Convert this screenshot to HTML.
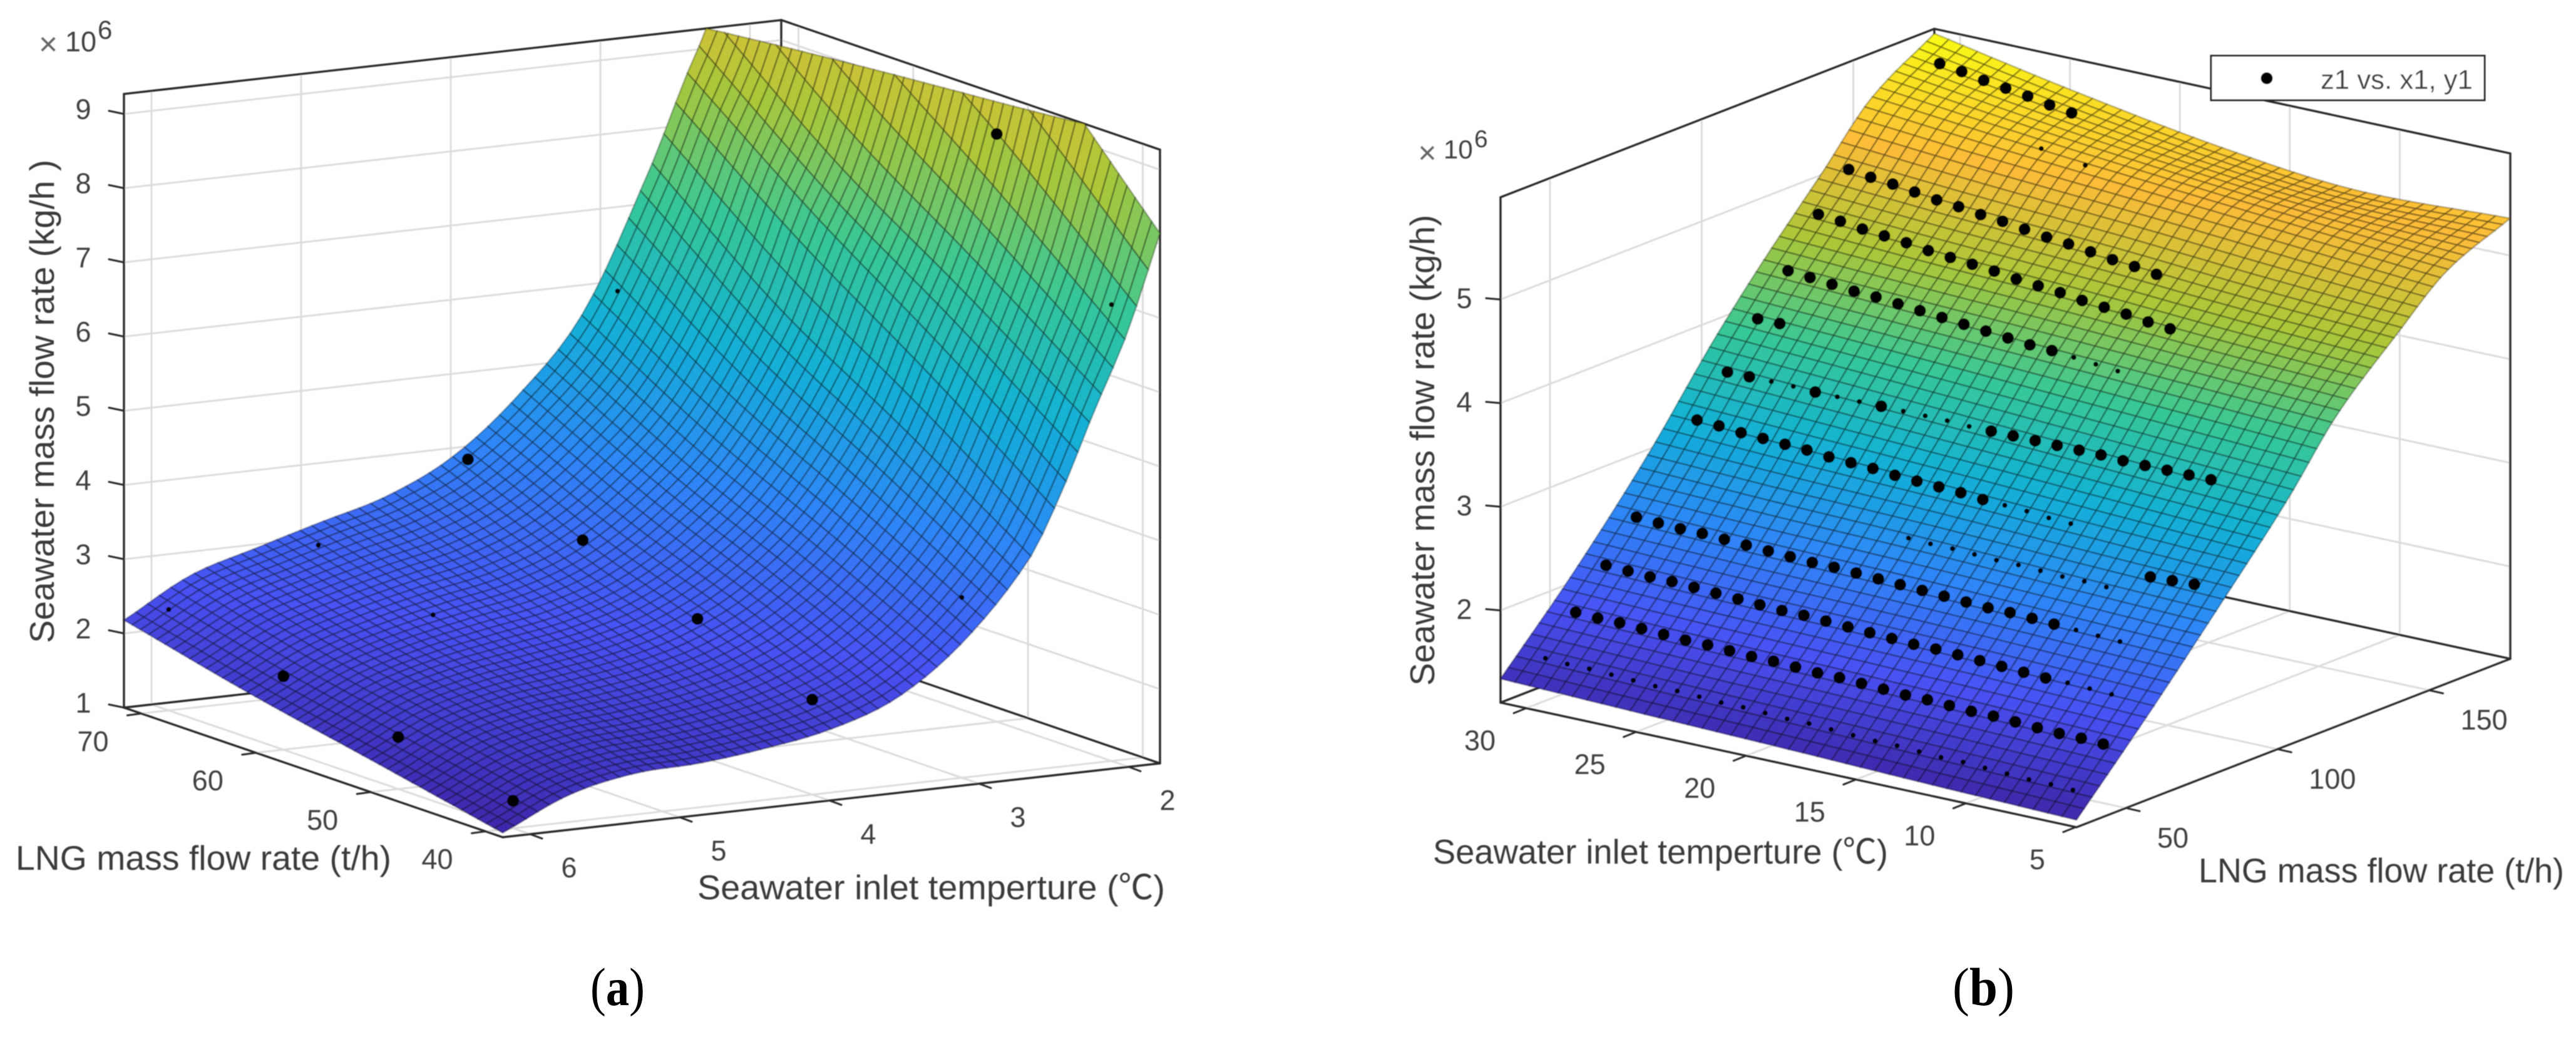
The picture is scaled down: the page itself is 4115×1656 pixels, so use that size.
<!DOCTYPE html>
<html lang="en">
<head>
<meta charset="utf-8">
<title>Seawater mass flow rate surfaces</title>
<style>
  html, body { margin: 0; padding: 0; background: #ffffff; }
  body { width: 4115px; height: 1656px; overflow: hidden; }
  svg { display: block; }
  text { font-family: "Liberation Sans", "Noto Sans CJK SC", sans-serif; fill: #404040; }
  .title { font-size: 55px; fill: #3a3a3a; }
  .caption { font-family: "Liberation Serif", serif; fill: #000000; }
</style>
</head>
<body>
<svg id="figure" xmlns="http://www.w3.org/2000/svg" width="4115" height="1656" viewBox="0 0 4115 1656">
  <defs>
    <filter id="soft" filterUnits="userSpaceOnUse" x="0" y="0" width="4115" height="1656">
      <feGaussianBlur stdDeviation="0.8"/>
    </filter>
  </defs>
  <rect x="0" y="0" width="4115" height="1656" fill="#ffffff"/>

  <g id="panel-a" filter="url(#soft)">
    <g id="layer-a"></g>
    <text class="title" transform="translate(86,1027) rotate(-90)" textLength="772" lengthAdjust="spacingAndGlyphs">Seawater mass flow rate (kg/h )</text>
    <text class="title" x="25" y="1389" textLength="600" lengthAdjust="spacingAndGlyphs">LNG mass flow rate (t/h)</text>
    <text class="title" x="1114" y="1436" textLength="747" lengthAdjust="spacingAndGlyphs">Seawater inlet temperture (℃)</text>
    <g>
      <text x="77" y="88" font-size="52" text-anchor="middle" style="fill:#666666">×</text>
      <text x="104" y="82" font-size="45">10</text>
      <text x="156" y="62" font-size="42">6</text>
    </g>
  </g>

  <g id="panel-b" filter="url(#soft)">
    <g id="layer-b"></g>
    <text class="title" transform="translate(2291,1095) rotate(-90)" textLength="752" lengthAdjust="spacingAndGlyphs">Seawater mass flow rate (kg/h)</text>
    <text class="title" x="2289" y="1379" textLength="727" lengthAdjust="spacingAndGlyphs">Seawater inlet temperture (℃)</text>
    <text class="title" x="3512" y="1409" textLength="584" lengthAdjust="spacingAndGlyphs">LNG mass flow rate (t/h)</text>
    <g>
      <text x="2280" y="261" font-size="50" text-anchor="middle" style="fill:#666666">×</text>
      <text x="2306" y="253" font-size="42">10</text>
      <text x="2355" y="235" font-size="39">6</text>
    </g>
    <g>
      <rect x="3532" y="89" width="437" height="71" fill="#ffffff" stroke="#262626" stroke-width="3"/>
      <circle cx="3621" cy="125" r="9.5" fill="#000000"/>
      <text x="3707" y="142" font-size="44" textLength="243" lengthAdjust="spacingAndGlyphs">z1 vs. x1, y1</text>
    </g>
  </g>

  <text class="caption" x="943" y="1605" font-size="86" textLength="87" lengthAdjust="spacingAndGlyphs">(<tspan font-weight="bold">a</tspan>)</text>
  <text class="caption" x="3119" y="1605" font-size="86" textLength="99" lengthAdjust="spacingAndGlyphs">(<tspan font-weight="bold">b</tspan>)</text>
</svg>

<script>
// ---------- Panel (a) data ----------
const panelATempTicks = [2, 3, 4, 5, 6];
const panelALngTicks = [40, 50, 60, 70];
const panelAZTicks = [1, 2, 3, 4, 5, 6, 7, 8, 9];
const panelASurfaceTemps = [1.79, 2.01, 2.23, 2.45, 2.67, 3.11, 3.55, 3.99, 4.43, 4.87, 5.30, 5.74, 6.18];
const panelASurfaceLng = [38.5, 49.5, 60.5, 71.5];
const panelASurfaceZ = [
  [8.15, 10.0, 11.6, 13.9],
  [6.85, 8.28, 9.64, 11.2],
  [5.85, 7.04, 8.19, 9.60],
  [4.80, 6.06, 7.24, 8.55],
  [3.94, 5.05, 6.11, 7.46],
  [2.93, 3.80, 4.63, 5.64],
  [2.28, 3.03, 3.75, 4.61],
  [1.96, 2.57, 3.16, 3.88],
  [1.80, 2.32, 2.84, 3.45],
  [1.70, 2.18, 2.67, 3.20],
  [1.66, 2.07, 2.48, 2.95],
  [1.47, 1.85, 2.21, 2.68],
  [1.06, 1.42, 1.77, 2.18]
];
const panelAPointT = [6, 4, 2, 3, 6, 4, 2, 6, 4, 6, 4, 5, 5, 3];
const panelAPointL = [40, 40, 40, 40, 50, 50, 50, 60, 60, 70, 70, 70, 60, 70];
const panelAPointZ = [1.37, 2.28, 7.15, 3.43, 1.70, 2.84, 8.92, 1.99, 3.37, 2.36, 3.93, 3.00, 2.59, 5.97];
const panelAPointPartlyHidden = [0, 0, 1, 1, 0, 0, 0, 0, 0, 1, 0, 1, 1, 1];

// ---------- Panel (b) data ----------
const panelBTempTicks = [5, 10, 15, 20, 25, 30];
const panelBLngTicks = [50, 100, 150];
const panelBZTicks = [2, 3, 4, 5];
const panelBSurfaceTemps = [4.97, 12.04, 18.07, 24.9, 31.17];
const panelBSurfaceLng = [33.7, 58, 82.3, 103, 119.5, 139.8, 155.8, 176.7];
const panelBSurfaceZ = [
  [1.18, 1.95, 2.76, 3.47, 4.11, 4.68, 5.09, 5.36],
  [1.22, 2.00, 2.81, 3.55, 4.18, 4.76, 5.20, 5.31],
  [1.26, 2.03, 2.86, 3.62, 4.24, 4.85, 5.30, 5.44],
  [1.30, 2.06, 2.90, 3.70, 4.30, 4.93, 5.42, 5.68],
  [1.34, 2.10, 2.95, 3.77, 4.36, 5.02, 5.55, 5.94]
];
const panelBRowLng = [170, 160, 140, 130, 120, 110, 100, 90, 80, 80, 70, 60, 50, 40];
const panelBRowTemps = [
  [30, 29, 28, 27, 26, 25, 24],
  [24, 22],
  [30, 29, 28, 27, 26, 25, 24, 23, 22, 21, 20, 19, 18, 17, 16],
  [30, 29, 28, 27, 26, 25, 24, 23, 22, 21, 20, 19, 18, 17, 16, 15, 14],
  [30, 29, 28, 27, 26, 25, 24, 23, 22, 21, 20, 19, 18, 17, 16, 15],
  [30, 29],
  [30, 29, 28, 27, 26, 25, 24, 23, 22, 21, 20, 19, 18, 17, 16, 15, 14, 13, 12, 11, 10, 9, 8],
  [30, 29, 28, 27, 26, 25, 24, 23, 22, 21, 20, 19, 18, 17, 16, 15, 14, 13],
  [19, 18, 17, 16, 15, 14, 13, 12, 11, 10],
  [8, 7, 6],
  [30, 29, 28, 27, 26, 25, 24, 23, 22, 21, 20, 19, 18, 17, 16, 15, 14, 13, 12, 11, 10, 9, 8],
  [30, 29, 28, 27, 26, 25, 24, 23, 22, 21, 20, 19, 18, 17, 16, 15, 14, 13, 12, 11, 10, 9, 8, 7],
  [30, 29, 28, 27, 26, 25, 24, 23, 22, 21, 20, 19, 18, 17, 16, 15, 14, 13, 12, 11, 10, 9, 8, 7, 6],
  [30, 29, 28, 27, 26, 25, 24, 23, 22, 21, 20, 19, 18, 17, 16, 15, 14, 13, 12, 11, 10, 9, 8, 7, 6]
];
const panelBRowZ = [
  [5.78, 5.75, 5.71, 5.68, 5.65, 5.61, 5.58],
  [5.35, 5.28],
  [5.10, 5.07, 5.05, 5.02, 4.99, 4.97, 4.94, 4.92, 4.89, 4.86, 4.84, 4.81, 4.78, 4.76, 4.73],
  [4.78, 4.76, 4.73, 4.71, 4.69, 4.66, 4.64, 4.62, 4.60, 4.57, 4.55, 4.53, 4.50, 4.48, 4.46, 4.43, 4.41],
  [4.35, 4.33, 4.31, 4.29, 4.28, 4.26, 4.24, 4.22, 4.20, 4.18, 4.16, 4.14, 4.13, 4.11, 4.09, 4.07],
  [4.00, 4.00],
  [3.60, 3.60, 3.60, 3.60, 3.59, 3.59, 3.59, 3.59, 3.59, 3.59, 3.59, 3.58, 3.58, 3.58, 3.58, 3.58, 3.58, 3.58, 3.57, 3.57, 3.57, 3.57, 3.57],
  [3.25, 3.24, 3.22, 3.21, 3.20, 3.19, 3.17, 3.16, 3.15, 3.13, 3.12, 3.11, 3.10, 3.08, 3.07, 3.06, 3.04, 3.03],
  [2.73, 2.72, 2.72, 2.71, 2.70, 2.70, 2.69, 2.68, 2.68, 2.67],
  [2.86, 2.87, 2.88],
  [2.54, 2.53, 2.52, 2.52, 2.51, 2.50, 2.49, 2.48, 2.47, 2.47, 2.46, 2.45, 2.44, 2.43, 2.42, 2.41, 2.40, 2.40, 2.39, 2.38, 2.37, 2.36, 2.35],
  [2.19, 2.18, 2.17, 2.17, 2.16, 2.15, 2.14, 2.13, 2.12, 2.12, 2.11, 2.10, 2.09, 2.08, 2.07, 2.07, 2.06, 2.05, 2.04, 2.03, 2.02, 2.02, 2.01, 2.00],
  [1.85, 1.84, 1.84, 1.83, 1.82, 1.81, 1.81, 1.80, 1.79, 1.79, 1.78, 1.77, 1.77, 1.76, 1.75, 1.74, 1.74, 1.73, 1.72, 1.72, 1.71, 1.70, 1.69, 1.69, 1.68],
  [1.52, 1.51, 1.51, 1.50, 1.49, 1.48, 1.48, 1.47, 1.46, 1.46, 1.45, 1.44, 1.44, 1.43, 1.42, 1.41, 1.41, 1.40, 1.39, 1.39, 1.38, 1.37, 1.36, 1.36, 1.35]
];
const panelBRowPartlyHidden = [
  [],
  [24, 22],
  [],
  [],
  [17, 16, 15],
  [],
  [28, 27, 25, 24, 22, 21, 20, 19],
  [16, 15, 14, 13],
  [19, 18, 17, 16, 15, 14, 13, 12, 11, 10],
  [],
  [10, 9, 8],
  [9, 8, 7],
  [],
  [30, 29, 28, 27, 26, 25, 24, 23, 22, 21, 20, 19, 18, 17, 16, 15, 14, 13, 12, 11, 10, 9, 8, 7, 6]
];

// ---------- Colormap ----------
const parulaStops = [
  [62, 38, 168], [72, 82, 244], [46, 135, 247], [18, 177, 214],
  [55, 200, 151], [171, 199, 57], [252, 188, 56], [249, 251, 21]
];
function parula(t) {
  const c = Math.max(0, Math.min(1, t)) * (parulaStops.length - 1);
  const i = Math.min(parulaStops.length - 2, Math.floor(c));
  const f = c - i;
  const a = parulaStops[i], b = parulaStops[i + 1];
  return 'rgb(' + Math.round(a[0] + (b[0] - a[0]) * f) + ',' + Math.round(a[1] + (b[1] - a[1]) * f) + ',' + Math.round(a[2] + (b[2] - a[2]) * f) + ')';
}

// ---------- Helpers ----------
const SVG_NS = 'http://www.w3.org/2000/svg';
function make(parent, tag, props) {
  const el = document.createElementNS(SVG_NS, tag);
  for (const k in props) el.setAttribute(k, props[k]);
  parent.appendChild(el);
  return el;
}
function hermite(nodes, values, x) {
  const n = nodes.length;
  let i = 0;
  while (i < n - 2 && x > nodes[i + 1]) i++;
  const h = nodes[i + 1] - nodes[i];
  const s = Math.max(0, Math.min(1, (x - nodes[i]) / h));
  const slope = function (k) {
    const lo = Math.max(0, k - 1), hi = Math.min(n - 1, k + 1);
    return (values[hi] - values[lo]) / (nodes[hi] - nodes[lo]);
  };
  const m0 = slope(i) * h, m1 = slope(i + 1) * h;
  const s2 = s * s, s3 = s2 * s;
  return (2 * s3 - 3 * s2 + 1) * values[i] + (s3 - 2 * s2 + s) * m0 + (-2 * s3 + 3 * s2) * values[i + 1] + (s3 - s2) * m1;
}
function surfaceAt(temps, lngs, grid, T, L) {
  const column = grid.map(function (row) { return hermite(lngs, row, L); });
  return hermite(temps, column, T);
}
function clipTop(verts, zTop) {
  const out = [];
  for (let i = 0; i < verts.length; i++) {
    const a = verts[i], b = verts[(i + 1) % verts.length];
    const inA = a.z <= zTop, inB = b.z <= zTop;
    if (inA) out.push(a);
    if (inA !== inB) {
      const k = (zTop - a.z) / (b.z - a.z);
      out.push({ T: a.T + (b.T - a.T) * k, L: a.L + (b.L - a.L) * k, z: zTop });
    }
  }
  return out;
}

// ---------- Panel renderer ----------
function drawPanel(cfg) {
  const root = document.getElementById(cfg.layer);
  const P = function (T, L, z) {
    const t = (T - cfg.tFront) / (cfg.tBack - cfg.tFront);
    const l = (L - cfg.lFront) / (cfg.lBack - cfg.lFront);
    const h = z - cfg.zMin;
    return [cfg.origin[0] + t * cfg.tVec[0] + l * cfg.lVec[0],
            cfg.origin[1] + t * cfg.tVec[1] + l * cfg.lVec[1] - h * cfg.zPx];
  };
  const seg = function (a, b, stroke, width) {
    return make(root, 'line', { x1: a[0], y1: a[1], x2: b[0], y2: b[1], stroke: stroke, 'stroke-width': width, 'stroke-linecap': 'round' });
  };
  const GRID = '#dcdcdc', GW = 3, AX = '#2a2a2a', AW = 3.4;

  // grid lines on the two back walls and the floor
  cfg.zTicks.forEach(function (z) {
    const a = seg(P(cfg.tFront, cfg.lBack, z), P(cfg.tBack, cfg.lBack, z), GRID, GW);
    
    
    const b = seg(P(cfg.tBack, cfg.lBack, z), P(cfg.tBack, cfg.lFront, z), GRID, GW);
    
    
  });
  cfg.tTicks.forEach(function (T) {
    const a = seg(P(T, cfg.lBack, cfg.zMin), P(T, cfg.lBack, cfg.zMax), GRID, GW);
    
    
    const b = seg(P(T, cfg.lFront, cfg.zMin), P(T, cfg.lBack, cfg.zMin), GRID, GW);
    
    
  });
  cfg.lTicks.forEach(function (L) {
    const a = seg(P(cfg.tBack, L, cfg.zMin), P(cfg.tBack, L, cfg.zMax), GRID, GW);
    
    
    const b = seg(P(cfg.tFront, L, cfg.zMin), P(cfg.tBack, L, cfg.zMin), GRID, GW);
    
    
  });

  // box edges
  const f = cfg.tFront, k = cfg.tBack, m = cfg.lFront, n = cfg.lBack, lo = cfg.zMin, hi = cfg.zMax;
  const boxEdges = [
    [[f, m, lo], [k, m, lo]], [[f, m, lo], [f, n, lo]],
    [[k, m, lo], [k, n, lo]], [[f, n, lo], [k, n, lo]],
    [[k, n, lo], [k, n, hi]], [[k, m, lo], [k, m, hi]], [[f, n, lo], [f, n, hi]],
    [[k, m, hi], [k, n, hi]], [[f, n, hi], [k, n, hi]]
  ];
  boxEdges.forEach(function (e) {
    const a = seg(P(e[0][0], e[0][1], e[0][2]), P(e[1][0], e[1][1], e[1][2]), AX, AW);
    
    
  });

  // ticks and tick labels
  cfg.zTicks.forEach(function (z) {
    const p = P(cfg.zAxisT, cfg.zAxisL, z);
    const t = seg(p, [p[0] + cfg.zTick[0], p[1] + cfg.zTick[1]], AX, 3);
    
    
    const lab = make(root, 'text', { x: p[0] + cfg.zLabel[0], y: p[1] + cfg.zLabel[1], 'font-size': cfg.tickFont, 'text-anchor': 'middle' });
    lab.textContent = String(z);
    
    
  });
  cfg.tTicks.forEach(function (T) {
    const p = P(T, cfg.lFront, cfg.zMin);
    const t = seg(p, [p[0] + cfg.tTick[0], p[1] + cfg.tTick[1]], AX, 3);
    
    
    const lab = make(root, 'text', { x: p[0] + cfg.tLabel[0], y: p[1] + cfg.tLabel[1], 'font-size': cfg.tickFont, 'text-anchor': cfg.tAnchor });
    lab.textContent = String(T);
    
    
  });
  cfg.lTicks.forEach(function (L) {
    const p = P(cfg.tFront, L, cfg.zMin);
    const t = seg(p, [p[0] + cfg.lTick[0], p[1] + cfg.lTick[1]], AX, 3);
    
    
    const lab = make(root, 'text', { x: p[0] + cfg.lLabel[0], y: p[1] + cfg.lLabel[1], 'font-size': cfg.tickFont, 'text-anchor': cfg.lAnchor });
    lab.textContent = String(L);
    
    
  });

  // surface mesh, painted back to front
  const surface = make(root, 'g', { stroke: 'rgba(0,0,0,0.3)', 'stroke-width': 2.6, 'stroke-linejoin': 'round' });
  
  
  const zAt = function (T, L) { return surfaceAt(cfg.temps, cfg.lngs, cfg.grid, T, L); };
  for (let i = cfg.meshT - 1; i >= 0; i--) {
    const T0 = cfg.tFront + (cfg.tBack - cfg.tFront) * i / cfg.meshT;
    const T1 = cfg.tFront + (cfg.tBack - cfg.tFront) * (i + 1) / cfg.meshT;
    for (let j = cfg.meshL - 1; j >= 0; j--) {
      const L0 = cfg.lFront + (cfg.lBack - cfg.lFront) * j / cfg.meshL;
      const L1 = cfg.lFront + (cfg.lBack - cfg.lFront) * (j + 1) / cfg.meshL;
      const raw = [
        { T: T0, L: L0, z: zAt(T0, L0) }, { T: T1, L: L0, z: zAt(T1, L0) },
        { T: T1, L: L1, z: zAt(T1, L1) }, { T: T0, L: L1, z: zAt(T0, L1) }
      ];
      const verts = clipTop(raw, cfg.zMax);
      if (verts.length < 3) continue;
      let mean = 0;
      verts.forEach(function (v) { mean += v.z; });
      mean /= verts.length;
      const pts = verts.map(function (v) {
        const p = P(v.T, v.L, v.z);
        return p[0].toFixed(1) + ',' + p[1].toFixed(1);
      }).join(' ');
      const cell = make(surface, 'polygon', { points: pts, fill: parula((mean - cfg.cMin) / (cfg.cMax - cfg.cMin)) });
      
      
    }
  }

  return P;
}

function drawPoint(root, p, partly) {
  const c = make(root, 'circle', { cx: p[0].toFixed(1), cy: p[1].toFixed(1), r: partly ? 4 : 9.5, fill: '#000000' });
  
  
}

// ---------- Draw panel (a) ----------
const projectA = drawPanel({
  layer: 'layer-a',
  origin: [803, 1337], tVec: [1050, -118], lVec: [-605, -207], zPx: 118.5,
  tFront: 6.184, tBack: 1.791, lFront: 38.5, lBack: 71.5, zMin: 1, zMax: 9.27,
  zAxisT: 6.184, zAxisL: 71.5,
  zTick: [-24, -5], tTick: [19, 7], lTick: [-22, 3],
  zLabel: [-65, 8], tLabel: [62, 69], lLabel: [-77, 60],
  tAnchor: 'middle', lAnchor: 'middle', tickFont: 45,
  tTicks: panelATempTicks, lTicks: panelALngTicks, zTicks: panelAZTicks,
  temps: panelASurfaceTemps, lngs: panelASurfaceLng, grid: panelASurfaceZ,
  cMin: 1.05, cMax: 11.66, meshT: 56, meshL: 46
});
const layerA = document.getElementById('layer-a');
panelAPointT.forEach(function (T, i) {
  drawPoint(layerA, projectA(T, panelAPointL[i], panelAPointZ[i]), panelAPointPartlyHidden[i] === 1);
});

// ---------- Draw panel (b) ----------
const projectB = drawPanel({
  layer: 'layer-b',
  origin: [3317, 1321], tVec: [-920, -199], lVec: [693, -269], zPx: 165.5,
  tFront: 4.97, tBack: 31.17, lFront: 33.7, lBack: 176.7, zMin: 1.11, zMax: 5.986,
  zAxisT: 31.17, zAxisL: 33.7,
  zTick: [-23, -2], tTick: [-20, 8], lTick: [22, 5],
  zLabel: [-58, 14], tLabel: [-49, 67], lLabel: [50, 63],
  tAnchor: 'end', lAnchor: 'start', tickFont: 45,
  tTicks: panelBTempTicks, lTicks: panelBLngTicks, zTicks: panelBZTicks,
  temps: panelBSurfaceTemps, lngs: panelBSurfaceLng, grid: panelBSurfaceZ,
  cMin: 1.18, cMax: 5.94, meshT: 40, meshL: 56
});
const layerB = document.getElementById('layer-b');
panelBRowLng.forEach(function (L, r) {
  panelBRowTemps[r].forEach(function (T, i) {
    drawPoint(layerB, projectB(T, L, panelBRowZ[r][i]), panelBRowPartlyHidden[r].indexOf(T) >= 0);
  });
});
</script>
</body>
</html>
